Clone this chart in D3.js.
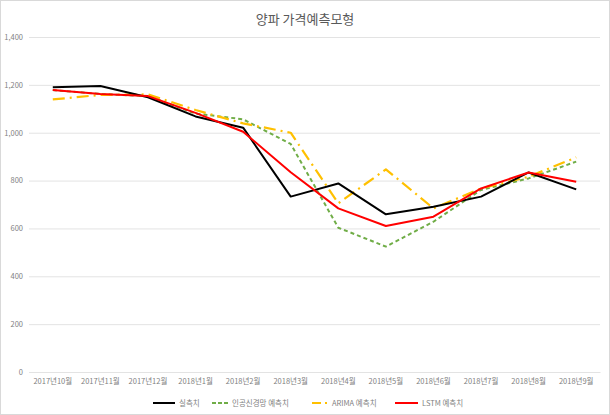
<!DOCTYPE html>
<html>
<head>
<meta charset="utf-8">
<script src="https://cdn.jsdelivr.net/npm/d3@7"></script>
<style>
html,body{margin:0;padding:0;background:#fff;}
svg{display:block;font-family:"Noto Sans CJK KR","Noto Sans",sans-serif;}
</style>
</head>
<body>
<svg id="chart" width="610" height="415"></svg>
<script>
const categories = ["2017년10월","2017년11월","2017년12월","2018년1월","2018년2월","2018년3월","2018년4월","2018년5월","2018년6월","2018년7월","2018년8월","2018년9월"];
const actual = [1190, 1195, 1148, 1068, 1021, 733, 788, 659, 691, 733, 834, 763];
const ann    = [1178, 1162, 1153, 1080, 1056, 953, 603, 524, 628, 761, 809, 879];
const arima  = [1139, 1158, 1160, 1095, 1039, 1000, 705, 847, 684, 767, 816, 897];
const lstm   = [1178, 1162, 1153, 1083, 1004, 835, 684, 610, 649, 767, 834, 795];
const yTicks = [0, 200, 400, 600, 800, 1000, 1200, 1400];
const seriesNames = ["실측치", "인공신경망 예측치", "ARIMA 예측치", "LSTM 예측치"];
const title = "양파 가격예측모형";

const svg = d3.select("#chart");
const W = 610, H = 415;
const m = {left: 29, right: 10, top: 37, bottom: 43};

svg.append("rect").attr("x", 0.5).attr("y", 0.5).attr("width", W - 1).attr("height", H - 1)
  .attr("fill", "#fff").attr("stroke", "#d9d9d9");

const x = d3.scaleBand().domain(categories).range([m.left, W - m.right]);
const y = d3.scaleLinear().domain([0, 1400]).range([H - m.bottom, m.top]);

svg.append("text").attr("x", 305).attr("y", 24).attr("text-anchor", "middle")
  .attr("font-size", 13).attr("fill", "#595959").text(title);

const yAxis = d3.axisLeft(y).tickValues(yTicks).tickSize(-(W - m.right - m.left)).tickFormat(d3.format(","));
const gy = svg.append("g").attr("transform", `translate(${m.left},0)`).call(yAxis);
gy.select(".domain").remove();
gy.selectAll(".tick line").attr("stroke", "#e3e3e3").attr("stroke-width", 1);
gy.selectAll(".tick text").attr("x", -6).attr("fill", "#7f7f7f").attr("font-size", 7.5)
  .attr("font-family", "'Noto Sans CJK KR','Noto Sans',sans-serif");

const xAxis = d3.axisBottom(x).tickSize(0);
const gx = svg.append("g").attr("transform", `translate(0,${H - m.bottom})`).call(xAxis);
gx.select(".domain").attr("stroke", "#e3e3e3");
gx.selectAll(".tick text").attr("dy", 0).attr("y", 12).attr("fill", "#7f7f7f").attr("font-size", 7.5)
  .attr("font-family", "'Noto Sans CJK KR','Noto Sans',sans-serif");

const series = [
  {name: seriesNames[0], values: actual, color: "#000000", dash: null, w: 2},
  {name: seriesNames[1], values: ann, color: "#70ad47", dash: "4,3", w: 2},
  {name: seriesNames[2], values: arima, color: "#ffc000", dash: "12,5,2,5", w: 2.2},
  {name: seriesNames[3], values: lstm, color: "#ff0000", dash: null, w: 2}
];
const drawOrder = [1, 2, 0, 3];
const line = d3.line().x((d, i) => x(categories[i]) + x.bandwidth() / 2).y(d => y(d));
drawOrder.forEach(k => {
  const s = series[k];
  svg.append("path").datum(s.values).attr("d", line).attr("fill", "none")
    .attr("stroke", s.color).attr("stroke-width", s.w)
    .attr("stroke-dasharray", s.dash).attr("stroke-linejoin", "round");
});

const legendPos = [153, 212, 312, 395];
const legendLen = [22, 16, 16, 23];
const lg = svg.append("g");
series.forEach((s, i) => {
  const lx = legendPos[i], ly = 403;
  lg.append("line").attr("x1", lx).attr("x2", lx + legendLen[i]).attr("y1", ly).attr("y2", ly)
    .attr("stroke", s.color).attr("stroke-width", 2).attr("stroke-dasharray", s.dash ? (i === 1 ? "4,2" : "9,4,2,4") : null);
  lg.append("text").attr("x", lx + legendLen[i] + 4).attr("y", ly + 3).attr("font-size", 7.5)
    .attr("fill", "#7f7f7f").text(s.name);
});
</script>
</body>
</html>
